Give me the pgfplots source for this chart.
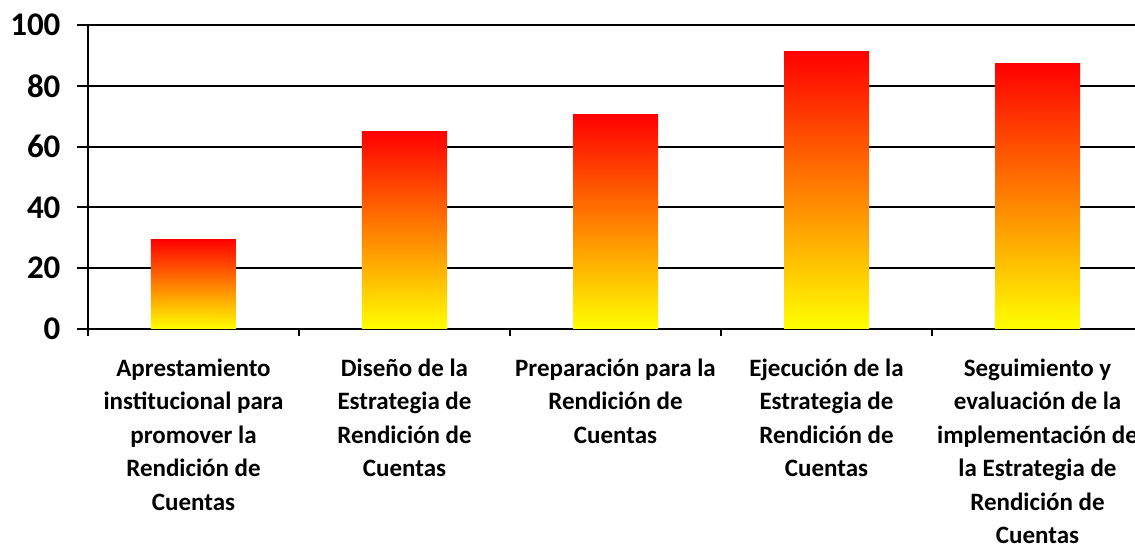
\documentclass[border=0pt]{standalone}
\usepackage{fontspec}
\setmainfont{Carlito}
\usepackage{pgfplots}
\pgfplotsset{compat=1.18}
\begin{document}
\begin{tikzpicture}
\begin{axis}[
  name=ax,
  width=1055pt, height=304pt, scale only axis,
  xmin=-0.5, xmax=4.5, ymin=0, ymax=100,
  axis x line*=bottom, axis y line*=left,
  axis line style={line width=2pt, -},
  ytick={0,20,...,100},
  ymajorgrids, grid style={black, line width=2pt},
  xtick={0,...,4},
  xticklabels={
    {Aprestamiento\\institucional para\\promover la\\Rendición de\\Cuentas},
    {Diseño de la\\Estrategia de\\Rendición de\\Cuentas},
    {Preparación para la\\Rendición de\\Cuentas},
    {Ejecución de la\\Estrategia de\\Rendición de\\Cuentas},
    {Seguimiento y\\evaluación de la\\implementación de\\la Estrategia de\\Rendición de\\Cuentas}},
  minor xtick={-0.5,0.5,...,4.5},
  tick align=outside,
  major tick length=11pt, minor tick length=7pt,
  major x tick style={draw=none},
  every tick/.style={black, line width=2pt},
  minor x tick style={black, line width=2pt},
  major y tick style={black, line width=2pt},
  xticklabel style={align=center, font=\bfseries\fontsize{25}{33.5}\selectfont, anchor=north, yshift=-15pt},
  yticklabel style={font=\bfseries\fontsize{33}{38}\selectfont, xshift=-13pt},
  /pgf/number format/assume math mode=true,
  bar width=85pt,
  no markers,
  every axis plot post/.append style={ybar, draw=none, mark=none, top color=red, bottom color=yellow},
]
\addplot coordinates {(0,29.4)};
\addplot coordinates {(1,64.9)};
\addplot coordinates {(2,70.5)};
\addplot coordinates {(3,91.4)};
\addplot coordinates {(4,87.3)};
\end{axis}
\pgfresetboundingbox
\path ([xshift=-88pt,yshift=25pt]ax.north west) rectangle ([xshift=1047pt,yshift=-523pt]ax.north west);
\end{tikzpicture}
\end{document}
